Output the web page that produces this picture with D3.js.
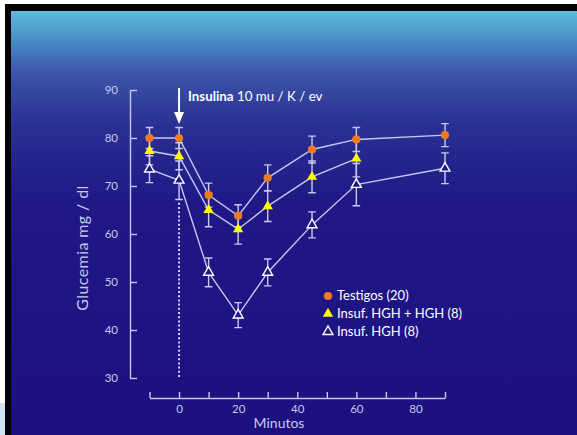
<!DOCTYPE html>
<html>
<head>
<meta charset="utf-8">
<script src="https://cdn.jsdelivr.net/npm/d3@7"></script>
<style>
  html, body { margin: 0; padding: 0; background: #ffffff; }
  svg { display: block; }
  text { font-family: Lato, "Open Sans", "DejaVu Sans", sans-serif; }
</style>
</head>
<body>
<svg id="chart" width="577" height="435"></svg>
<script>
// Blood glucose (mg/dl) after an insulin bolus, by group
const minutes = [-10, 0, 10, 20, 30, 45, 60, 90];
const xTicks = [-10, 0, 10, 20, 30, 40, 50, 60, 70, 80, 90];
const xTickLabels = [0, 20, 40, 60, 80];
const yTicks = [30, 40, 50, 60, 70, 80, 90];

const testigos    = [80.0, 80.0, 68.1, 63.8, 71.7, 77.6, 79.7, 80.6];
const testigosErr = [2.2, 2.2, 2.5, 2.3, 2.7, 2.8, 2.5, 2.4];

const hghTratados    = [77.3, 76.2, 65.0, 61.0, 65.8, 71.9, 75.7, null];
const hghTratadosErr = [2.9, 2.8, 3.5, 3.1, 3.2, 3.3, 3.8, null];

const insufHGH    = [73.5, 71.2, 52.0, 43.1, 52.0, 61.9, 70.3, 73.7];
const insufHGHErr = [2.8, 4.0, 3.0, 2.6, 2.8, 2.7, 4.4, 3.2];

const legendLabels = ["Testigos (20)", "Insuf. HGH + HGH (8)", "Insuf. HGH (8)"];

const svg = d3.select("#chart");
const W = 577, H = 435;

// ---- slide frame and background ----
const defs = svg.append("defs");
const grad = defs.append("linearGradient").attr("id", "bg").attr("x1", 0).attr("y1", 0).attr("x2", 0).attr("y2", 1);
[[0, "#5cbcdc"], [0.07, "#4a8cc4"], [0.15, "#3b53a8"], [0.27, "#2a3092"], [0.45, "#1f1886"], [1, "#1d0f7f"]]
  .forEach(([o, c]) => grad.append("stop").attr("offset", o).attr("stop-color", c));

svg.append("rect").attr("x", 0).attr("y", 403).attr("width", 7).attr("height", H - 403).attr("fill", "#d3e5f5");
svg.append("rect").attr("x", 5).attr("y", 4).attr("width", W - 5).attr("height", H - 4).attr("fill", "#000");
svg.append("rect").attr("x", 11).attr("y", 11).attr("width", W - 11).attr("height", H - 11).attr("fill", "url(#bg)");

// ---- scales ----
const x = d3.scaleLinear().domain([-10, 90]).range([149.5, 445]);
const y = d3.scaleLinear().domain([30, 90]).range([378, 90]);

const axisColor = "#c6c6ea";
const labelColor = "#c8c8ea";

// ---- axes ----
const yAxis = svg.append("g").attr("transform", "translate(130,0)")
  .call(d3.axisLeft(y).tickValues(yTicks).tickSize(-7).tickSizeOuter(0).tickPadding(12));
const xAxis = svg.append("g").attr("transform", "translate(0,398)")
  .call(d3.axisBottom(x).tickValues(xTicks).tickSize(-6).tickSizeOuter(0).tickPadding(7)
    .tickFormat(d => xTickLabels.includes(d) ? d : ""));
[yAxis, xAxis].forEach(g => {
  g.select(".domain").attr("stroke", axisColor).attr("stroke-width", 1.4);
  g.selectAll(".tick line").attr("stroke", axisColor).attr("stroke-width", 1.4);
  g.selectAll(".tick text").attr("fill", labelColor).style("font-size", "11.5px")
    .style("font-family", "Lato, 'Open Sans', sans-serif");
});

svg.append("text").attr("x", 279).attr("y", 428).attr("text-anchor", "middle")
  .attr("fill", labelColor).style("font-size", "14px").text("Minutos");
svg.append("text").attr("transform", "translate(88,248) rotate(-90)").attr("text-anchor", "middle")
  .attr("fill", labelColor).style("font-size", "16px").style("letter-spacing", "0.4px")
  .text("Glucemia mg / dl");

// ---- insulin injection marker ----
svg.append("line").attr("x1", x(0)).attr("x2", x(0)).attr("y1", y(66.5)).attr("y2", y(30))
  .attr("stroke", "#ffffff").attr("stroke-width", 1.6).attr("stroke-dasharray", "2,2.2");
svg.append("line").attr("x1", x(0)).attr("x2", x(0)).attr("y1", 88).attr("y2", 115)
  .attr("stroke", "#ffffff").attr("stroke-width", 2);
svg.append("path").attr("d", `M${x(0) - 5},112 L${x(0) + 5},112 L${x(0)},124 Z`).attr("fill", "#ffffff");
const ins = svg.append("text").attr("x", 188).attr("y", 101).attr("fill", "#ffffff").style("font-size", "13.3px");
ins.append("tspan").attr("font-weight", "bold").text("Insulina");
ins.append("tspan").text(" 10 mu / K / ev");

// ---- series ----
const lineColor = "#c8c8f0";
const series = [
  { vals: testigos, err: testigosErr, kind: "circle" },
  { vals: hghTratados, err: hghTratadosErr, kind: "filledTri" },
  { vals: insufHGH, err: insufHGHErr, kind: "openTri" }
].map(s => ({ ...s, pts: minutes.map((m, i) => ({ m, v: s.vals[i], e: s.err[i] })).filter(p => p.v != null) }));

const line = d3.line().x(p => x(p.m)).y(p => y(p.v));
const capW = 3.8;

// lines and error bars beneath markers
series.forEach(s => {
  svg.append("path").attr("d", line(s.pts)).attr("fill", "none").attr("stroke", lineColor).attr("stroke-width", 1.4);
  const eb = svg.append("g").attr("stroke", lineColor).attr("stroke-width", 1.4).attr("fill", "none");
  s.pts.forEach(p => {
    const cx = x(p.m), t = y(p.v + p.e), b = y(p.v - p.e);
    eb.append("path").attr("d", `M${cx},${t}V${b}M${cx - capW},${t}H${cx + capW}M${cx - capW},${b}H${cx + capW}`);
  });
});

const tri = d3.symbol().type(d3.symbolTriangle);
function drawMarker(g, kind, cx, cy) {
  if (kind === "circle") {
    g.append("circle").attr("cx", cx).attr("cy", cy).attr("r", 4.1).attr("fill", "#f07a1e");
  } else if (kind === "filledTri") {
    g.append("path").attr("d", tri.size(46)()).attr("transform", `translate(${cx},${cy})`).attr("fill", "#ffff00");
  } else {
    g.append("path").attr("d", tri.size(42)()).attr("transform", `translate(${cx},${cy})`)
      .attr("fill", "#1f1886").attr("stroke", "#ffffff").attr("stroke-width", 1.4);
  }
}
series.forEach(s => {
  const g = svg.append("g");
  s.pts.forEach(p => drawMarker(g, s.kind, x(p.m), y(p.v)));
});

// ---- legend ----
const legend = svg.append("g");
series.forEach((s, i) => {
  const ly = 296 + i * 17.8;
  drawMarker(legend, s.kind, 328, ly);
  legend.append("text").attr("x", 337).attr("y", ly + 4.4).attr("fill", "#ffffff")
    .style("font-size", "13px").text(legendLabels[i]);
});
</script>
</body>
</html>
